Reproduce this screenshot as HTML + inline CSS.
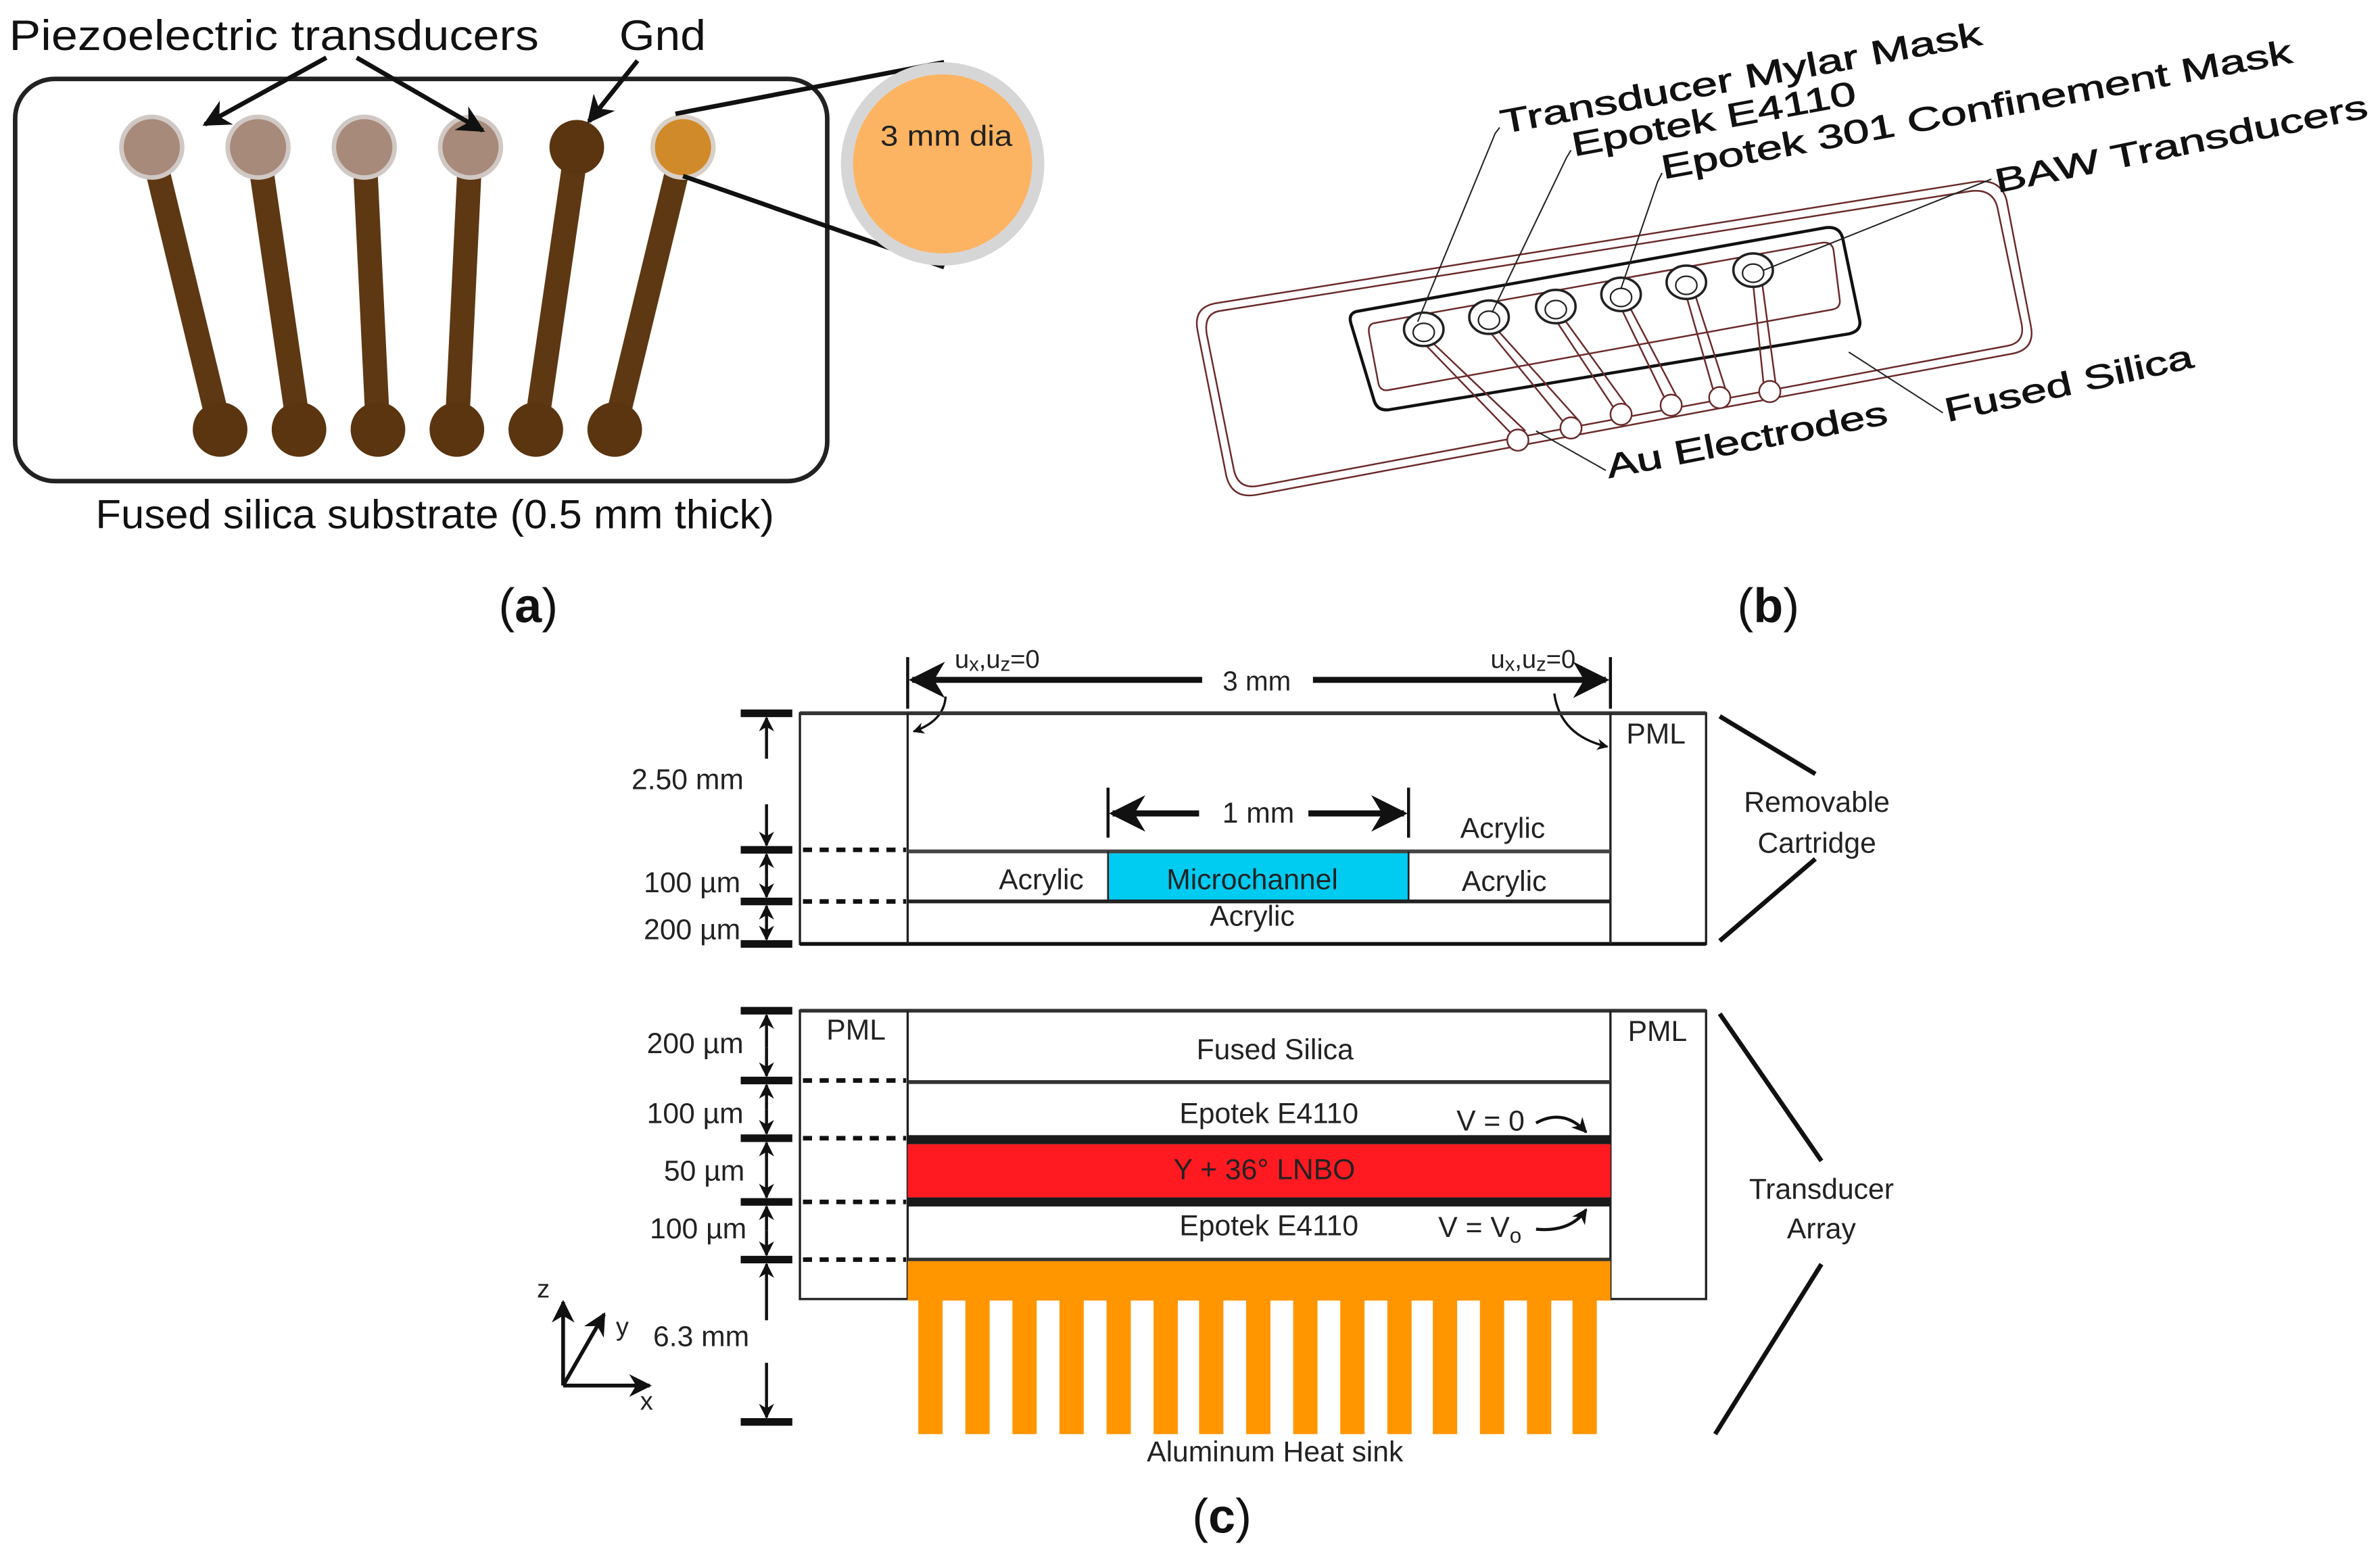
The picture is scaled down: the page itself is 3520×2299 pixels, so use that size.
<!DOCTYPE html>
<html><head><meta charset="utf-8"><style>
html,body{margin:0;padding:0;background:#fff;}
svg{display:block;}
text{font-family:"Liberation Sans",sans-serif;}
</style></head><body>
<svg width="3520" height="2299" viewBox="0 0 1568 1024" preserveAspectRatio="none" xmlns="http://www.w3.org/2000/svg">
<defs>
<marker id="ah" viewBox="0 0 10 10" refX="9" refY="5" markerWidth="6" markerHeight="6" orient="auto-start-reverse"><path d="M0,0 L10,5 L0,10 L3,5 z" fill="#111"/></marker>
<marker id="ahs" viewBox="0 0 10 10" refX="9" refY="5" markerWidth="5" markerHeight="5" orient="auto-start-reverse"><path d="M0,0 L10,5 L0,10 L3,5 z" fill="#111"/></marker>
</defs>
<rect width="1568" height="1024" fill="#fff"/>

<!-- ===== (a) ===== -->
<text x="6" y="33" font-size="28" fill="#111" textLength="349" lengthAdjust="spacingAndGlyphs">Piezoelectric transducers</text>
<text x="408" y="33" font-size="28" fill="#111" textLength="57" lengthAdjust="spacingAndGlyphs">Gnd</text>
<rect x="10" y="52" width="535" height="265" rx="26" fill="none" stroke="#222" stroke-width="3"/>
<g stroke="#5e3812" stroke-width="16" stroke-linecap="round">
<line x1="100" y1="97" x2="145" y2="283"/>
<line x1="170" y1="97" x2="197" y2="283"/>
<line x1="240" y1="97" x2="249" y2="283"/>
<line x1="310" y1="97" x2="301" y2="283"/>
<line x1="380" y1="97" x2="353" y2="283"/>
<line x1="450" y1="97" x2="405" y2="283"/>
</g>
<g fill="#5a3510">
<circle cx="145" cy="283" r="18"/><circle cx="197" cy="283" r="18"/><circle cx="249" cy="283" r="18"/>
<circle cx="301" cy="283" r="18"/><circle cx="353" cy="283" r="18"/><circle cx="405" cy="283" r="18"/>
<circle cx="380" cy="97" r="18"/>
</g>
<g fill="#a88a7a" stroke="#d0c8c4" stroke-width="3">
<circle cx="100" cy="97" r="20"/><circle cx="170" cy="97" r="20"/><circle cx="240" cy="97" r="20"/><circle cx="310" cy="97" r="20"/>
</g>
<circle cx="450" cy="97" r="20" fill="#d08a2a" stroke="#d8d0c8" stroke-width="3"/>
<g stroke="#111" stroke-width="3" fill="none">
<line x1="215" y1="38" x2="135" y2="82" marker-end="url(#ah)"/>
<line x1="235" y1="38" x2="318" y2="86" marker-end="url(#ah)"/>
<line x1="420" y1="40" x2="388" y2="80" marker-end="url(#ah)"/>
<line x1="445" y1="75" x2="622" y2="41"/>
<line x1="450" y1="116" x2="622" y2="176"/>
</g>
<circle cx="621" cy="108" r="67" fill="#d6d6d6"/>
<circle cx="621" cy="108" r="59" fill="#fdb462"/>
<text x="580" y="96" font-size="19" fill="#222" textLength="87" lengthAdjust="spacingAndGlyphs">3 mm dia</text>
<text x="63" y="348" font-size="27" fill="#111" textLength="447" lengthAdjust="spacingAndGlyphs">Fused silica substrate (0.5 mm thick)</text>
<text x="348" y="410" font-size="32" font-family="Liberation Serif, serif" text-anchor="middle" fill="#111">(<tspan font-weight="bold">a</tspan>)</text>

<!-- ===== (b) ===== -->
<g fill="none" stroke="#6b2a2a" stroke-width="1.1">
<path d="M800,200 L1300,120 Q1318,117 1322,132 L1338,215 Q1341,230 1326,233 L828,326 Q812,329 808,314 L789,218 Q786,203 800,200 Z"/>
<path d="M803,205 L1298,126 Q1313,124 1316,137 L1332,214 Q1334,226 1322,228 L830,320 Q816,323 813,310 L795,220 Q793,207 803,205 Z"/>
<path d="M895,205 L1203,150 Q1212,149 1214,157 L1225,210 Q1227,218 1218,220 L915,270 Q907,271 905,263 L890,213 Q888,206 895,205 Z" stroke="#111" stroke-width="2"/>
<path d="M905,213 L1200,160 Q1207,159 1208,165 L1212,197 Q1213,203 1207,204 L915,257 Q909,258 908,252 L902,220 Q901,214 905,213 Z"/>
<g stroke="#6b2a2a">
<line x1="938" y1="226" x2="995" y2="285"/><line x1="944" y1="226" x2="1005" y2="284"/>
<line x1="981" y1="218" x2="1030" y2="278"/><line x1="987" y1="218" x2="1040" y2="277"/>
<line x1="1025" y1="211" x2="1064" y2="270"/><line x1="1031" y1="211" x2="1073" y2="269"/>
<line x1="1068" y1="203" x2="1097" y2="263"/><line x1="1074" y1="203" x2="1105" y2="262"/>
<line x1="1111" y1="195" x2="1129" y2="258"/><line x1="1117" y1="195" x2="1137" y2="257"/>
<line x1="1155" y1="187" x2="1162" y2="254"/><line x1="1161" y1="187" x2="1170" y2="254"/>
</g>
<g fill="#fff">
<circle cx="1000" cy="290" r="7"/><circle cx="1035" cy="282" r="7"/><circle cx="1068" cy="273" r="7"/>
<circle cx="1101" cy="267" r="7"/><circle cx="1133" cy="262" r="7"/><circle cx="1166" cy="258" r="7"/>
</g>
<g stroke="#222" stroke-width="1.6" fill="#fff">
<ellipse cx="938" cy="217" rx="13" ry="11"/><ellipse cx="981" cy="209" rx="13" ry="11"/><ellipse cx="1025" cy="202" rx="13" ry="11"/>
<ellipse cx="1068" cy="194" rx="13" ry="11"/><ellipse cx="1111" cy="186" rx="13" ry="11"/><ellipse cx="1155" cy="178" rx="13" ry="11"/>
</g>
<g stroke="#222" stroke-width="1">
<ellipse cx="938" cy="219" rx="7" ry="6"/><ellipse cx="981" cy="211" rx="7" ry="6"/><ellipse cx="1025" cy="204" rx="7" ry="6"/>
<ellipse cx="1068" cy="196" rx="7" ry="6"/><ellipse cx="1111" cy="188" rx="7" ry="6"/><ellipse cx="1155" cy="180" rx="7" ry="6"/>
</g>
</g>
<g stroke="#222" stroke-width="0.9" fill="none">
<polyline points="988,84 985,88 934,212"/>
<polyline points="1035,99 1032,104 983,206"/>
<polyline points="1095,114 1092,120 1068,190"/>
<line x1="1312" y1="118" x2="1162" y2="178"/>
<line x1="1280" y1="272" x2="1218" y2="232"/>
<line x1="1058" y1="310" x2="1012" y2="284"/>
</g>
<g font-size="22" fill="#111" stroke="#111" stroke-width="0.4">
<text transform="translate(990,88) rotate(-10.5)" textLength="322" lengthAdjust="spacingAndGlyphs">Transducer Mylar Mask</text>
<text transform="translate(1037,103) rotate(-10.5)" textLength="190" lengthAdjust="spacingAndGlyphs">Epotek E4110</text>
<text transform="translate(1096,118) rotate(-10.5)" textLength="422" lengthAdjust="spacingAndGlyphs">Epotek 301 Confinement Mask</text>
<text transform="translate(1316,127) rotate(-11.5)" textLength="250" lengthAdjust="spacingAndGlyphs">BAW Transducers</text>
<text transform="translate(1283,278) rotate(-12.5)" textLength="167" lengthAdjust="spacingAndGlyphs">Fused Silica</text>
<text transform="translate(1060,315) rotate(-11)" textLength="188" lengthAdjust="spacingAndGlyphs">Au Electrodes</text>
</g>
<text x="1165" y="410" font-size="32" font-family="Liberation Serif, serif" text-anchor="middle" fill="#111">(<tspan font-weight="bold">b</tspan>)</text>

<!-- ===== (c) top ===== -->
<g fill="#222" font-size="18" text-anchor="middle">
<text x="657" y="440" font-size="17">u<tspan font-size="13" dy="2">x</tspan><tspan dy="-2">,u</tspan><tspan font-size="13" dy="2">z</tspan><tspan dy="-2">=0</tspan></text>
<text x="1010" y="440" font-size="17">u<tspan font-size="13" dy="2">x</tspan><tspan dy="-2">,u</tspan><tspan font-size="13" dy="2">z</tspan><tspan dy="-2">=0</tspan></text>
<text x="828" y="455">3 mm</text>
</g>
<g stroke="#111" fill="none">
<line x1="598" y1="433" x2="598" y2="467" stroke-width="2"/>
<line x1="1061" y1="433" x2="1061" y2="467" stroke-width="2"/>
<line x1="792" y1="448" x2="601" y2="448" stroke-width="4" marker-end="url(#ah)"/>
<line x1="865" y1="448" x2="1058" y2="448" stroke-width="4" marker-end="url(#ah)"/>
<path d="M623,459 Q622,475 602,482" stroke-width="1.5" marker-end="url(#ahs)"/>
<path d="M1024,457 Q1028,485 1059,492" stroke-width="1.5" marker-end="url(#ahs)"/>
</g>
<rect x="527" y="470" width="597" height="152" fill="none" stroke="#222" stroke-width="1.5"/>
<line x1="527" y1="470" x2="1124" y2="470" stroke="#333" stroke-width="2.5"/>
<line x1="527" y1="622" x2="1124" y2="622" stroke="#111" stroke-width="2.5"/>
<line x1="598" y1="470" x2="598" y2="622" stroke="#222" stroke-width="1.5"/>
<line x1="1061" y1="470" x2="1061" y2="622" stroke="#222" stroke-width="1.5"/>
<rect x="730" y="561" width="198" height="33" fill="#00ccf2"/>
<line x1="598" y1="561" x2="1061" y2="561" stroke="#444" stroke-width="2.5"/>
<line x1="598" y1="594" x2="1061" y2="594" stroke="#222" stroke-width="2.5"/>
<line x1="730" y1="561" x2="730" y2="594" stroke="#222" stroke-width="1.2"/>
<line x1="928" y1="561" x2="928" y2="594" stroke="#222" stroke-width="1.2"/>
<g stroke="#111" fill="none">
<line x1="730" y1="519" x2="730" y2="552" stroke-width="2"/>
<line x1="928" y1="519" x2="928" y2="552" stroke-width="2"/>
<line x1="790" y1="536" x2="733" y2="536" stroke-width="4" marker-end="url(#ah)"/>
<line x1="862" y1="536" x2="925" y2="536" stroke-width="4" marker-end="url(#ah)"/>
</g>
<g fill="#222" font-size="19" text-anchor="middle">
<text x="829" y="542">1 mm</text>
<text x="990" y="552">Acrylic</text>
<text x="686" y="586">Acrylic</text>
<text x="991" y="587">Acrylic</text>
<text x="825" y="586">Microchannel</text>
<text x="825" y="610">Acrylic</text>
<text x="1091" y="490">PML</text>
<text x="453" y="520">2.50 mm</text>
<text x="456" y="588">100 µm</text>
<text x="456" y="619">200 µm</text>
<text x="1197" y="535">Removable</text>
<text x="1197" y="562">Cartridge</text>
</g>
<g stroke="#111">
<g stroke-width="5">
<line x1="488" y1="470" x2="522" y2="470"/><line x1="488" y1="560" x2="522" y2="560"/>
<line x1="488" y1="594" x2="522" y2="594"/><line x1="488" y1="622" x2="522" y2="622"/>
</g>
<line x1="505" y1="500" x2="505" y2="473" stroke-width="2" marker-end="url(#ahs)"/>
<line x1="505" y1="530" x2="505" y2="557" stroke-width="2" marker-end="url(#ahs)"/>
<line x1="505" y1="577" x2="505" y2="563" stroke-width="2" marker-end="url(#ahs)"/>
<line x1="505" y1="577" x2="505" y2="591" stroke-width="2" marker-end="url(#ahs)"/>
<line x1="505" y1="608" x2="505" y2="597" stroke-width="2" marker-end="url(#ahs)"/>
<line x1="505" y1="608" x2="505" y2="619" stroke-width="2" marker-end="url(#ahs)"/>
<line x1="529" y1="560" x2="597" y2="560" stroke-width="3" stroke-dasharray="6,5"/>
<line x1="529" y1="594" x2="597" y2="594" stroke-width="3" stroke-dasharray="6,5"/>
<line x1="1133" y1="472" x2="1196" y2="510" stroke-width="3"/>
<line x1="1133" y1="620" x2="1196" y2="566" stroke-width="3"/>
</g>

<!-- ===== (c) bottom ===== -->
<rect x="527" y="666" width="597" height="190" fill="none" stroke="#222" stroke-width="1.5"/>
<line x1="527" y1="666" x2="1124" y2="666" stroke="#333" stroke-width="2.5"/>
<line x1="598" y1="666" x2="598" y2="856" stroke="#222" stroke-width="1.5"/>
<line x1="1061" y1="666" x2="1061" y2="856" stroke="#222" stroke-width="1.5"/>
<line x1="598" y1="713" x2="1061" y2="713" stroke="#333" stroke-width="2.5"/>
<rect x="598" y="748" width="463" height="6" fill="#1a1a1a"/>
<rect x="598" y="754" width="463" height="35" fill="#ff1a22"/>
<rect x="598" y="789" width="463" height="6" fill="#1a1a1a"/>
<line x1="598" y1="830" x2="1061" y2="830" stroke="#333" stroke-width="2.5"/>
<g fill="#ff9600">
<rect x="598" y="831" width="463" height="26"/>
<rect x="605" y="856" width="16" height="89"/><rect x="636" y="856" width="16" height="89"/><rect x="667" y="856" width="16" height="89"/>
<rect x="698" y="856" width="16" height="89"/><rect x="729" y="856" width="16" height="89"/><rect x="760" y="856" width="16" height="89"/>
<rect x="790" y="856" width="16" height="89"/><rect x="821" y="856" width="16" height="89"/><rect x="852" y="856" width="16" height="89"/>
<rect x="883" y="856" width="16" height="89"/><rect x="914" y="856" width="16" height="89"/><rect x="944" y="856" width="16" height="89"/>
<rect x="975" y="856" width="16" height="89"/><rect x="1006" y="856" width="16" height="89"/><rect x="1036" y="856" width="16" height="89"/>
</g>
<g fill="#222" font-size="19" text-anchor="middle">
<text x="564" y="685">PML</text>
<text x="1092" y="686">PML</text>
<text x="840" y="698">Fused Silica</text>
<text x="836" y="740">Epotek E4110</text>
<text x="982" y="745">V = 0</text>
<text x="833" y="777">Y + 36° LNBO</text>
<text x="836" y="814">Epotek E4110</text>
<text x="975" y="815">V = V<tspan font-size="14" dy="4">o</tspan></text>
<text x="458" y="694">200 µm</text>
<text x="458" y="740">100 µm</text>
<text x="464" y="778">50 µm</text>
<text x="460" y="816">100 µm</text>
<text x="462" y="887">6.3 mm</text>
<text x="840" y="963">Aluminum Heat sink</text>
<text x="1200" y="790">Transducer</text>
<text x="1200" y="816">Array</text>
<text x="358" y="855" font-size="17">z</text>
<text x="410" y="880" font-size="17">y</text>
<text x="426" y="929" font-size="17">x</text>
</g>
<g stroke="#111" fill="none">
<path d="M1012,740 Q1030,730 1045,746" stroke-width="2" marker-end="url(#ahs)"/>
<path d="M1012,810 Q1035,812 1045,797" stroke-width="2" marker-end="url(#ahs)"/>
<g stroke-width="5">
<line x1="488" y1="666" x2="522" y2="666"/><line x1="488" y1="712" x2="522" y2="712"/>
<line x1="488" y1="750" x2="522" y2="750"/><line x1="488" y1="792" x2="522" y2="792"/>
<line x1="488" y1="830" x2="522" y2="830"/><line x1="488" y1="937" x2="522" y2="937"/>
</g>
<line x1="505" y1="690" x2="505" y2="669" stroke-width="2" marker-end="url(#ahs)"/>
<line x1="505" y1="690" x2="505" y2="709" stroke-width="2" marker-end="url(#ahs)"/>
<line x1="505" y1="731" x2="505" y2="715" stroke-width="2" marker-end="url(#ahs)"/>
<line x1="505" y1="731" x2="505" y2="747" stroke-width="2" marker-end="url(#ahs)"/>
<line x1="505" y1="771" x2="505" y2="753" stroke-width="2" marker-end="url(#ahs)"/>
<line x1="505" y1="771" x2="505" y2="789" stroke-width="2" marker-end="url(#ahs)"/>
<line x1="505" y1="811" x2="505" y2="795" stroke-width="2" marker-end="url(#ahs)"/>
<line x1="505" y1="811" x2="505" y2="827" stroke-width="2" marker-end="url(#ahs)"/>
<line x1="505" y1="870" x2="505" y2="833" stroke-width="2" marker-end="url(#ahs)"/>
<line x1="505" y1="898" x2="505" y2="934" stroke-width="2" marker-end="url(#ahs)"/>
<line x1="529" y1="712" x2="597" y2="712" stroke-width="3" stroke-dasharray="6,5"/>
<line x1="529" y1="750" x2="597" y2="750" stroke-width="3" stroke-dasharray="6,5"/>
<line x1="529" y1="792" x2="597" y2="792" stroke-width="3" stroke-dasharray="6,5"/>
<line x1="529" y1="830" x2="597" y2="830" stroke-width="3" stroke-dasharray="6,5"/>
<line x1="1133" y1="668" x2="1200" y2="765" stroke-width="3"/>
<line x1="1200" y1="833" x2="1130" y2="945" stroke-width="3"/>
<line x1="371" y1="913" x2="371" y2="858" stroke-width="2.5" marker-end="url(#ah)"/>
<line x1="371" y1="913" x2="428" y2="913" stroke-width="2.5" marker-end="url(#ah)"/>
<line x1="371" y1="913" x2="398" y2="866" stroke-width="2.5" marker-end="url(#ah)"/>
</g>
<text x="805" y="1010" font-size="32" font-family="Liberation Serif, serif" text-anchor="middle" fill="#111">(<tspan font-weight="bold">c</tspan>)</text>
</svg>
</body></html>
